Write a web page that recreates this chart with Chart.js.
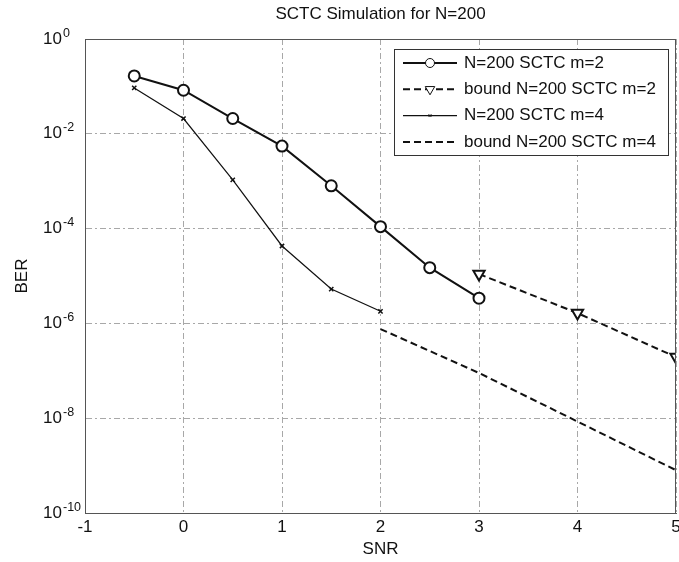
<!DOCTYPE html>
<html>
<head>
<meta charset="utf-8">
<title>SCTC Simulation for N=200</title>
<style>
  body { margin: 0; background: white; }
</style>
</head>
<body>
<canvas id="berChart" width="679" height="562"></canvas>

<script src="https://cdn.jsdelivr.net/npm/chart.js@4.4.0/dist/chart.umd.min.js"></script>
<script>
// values (SNR in dB, BER)
var snrM2 = [-0.5, 0, 0.5, 1, 1.5, 2, 2.5, 3];
var berM2 = [0.166, 0.083, 0.021, 0.0055, 8e-4, 1.1e-4, 1.5e-5, 3.4e-6];
var snrBoundM2 = [3, 4, 5];
var berBoundM2 = [1.1e-5, 1.65e-6, 1.95e-7];
var snrM4 = [-0.5, 0, 0.5, 1, 1.5, 2];
var berM4 = [0.093, 0.021, 1.07e-3, 4.3e-5, 5.3e-6, 1.8e-6];
var snrBoundM4 = [2, 3, 4, 5];
var berBoundM4 = [7.6e-7, 9e-8, 8.5e-9, 8e-10];
var seriesNames = ['N=200 SCTC m=2', 'bound N=200 SCTC m=2', 'N=200 SCTC m=4', 'bound N=200 SCTC m=4'];
var xTicks = [-1, 0, 1, 2, 3, 4, 5];
var yTickExp = [0, -2, -4, -6, -8, -10];

var FONT = "'Liberation Sans', Arial, sans-serif";

function pts(xs, ys) {
  return xs.map(function (x, i) { return { x: x, y: ys[i] }; });
}

// white page + frame around the axes
var frame = {
  id: 'frame',
  beforeDraw: function (chart) {
    var c = chart.ctx;
    c.save();
    c.fillStyle = 'white';
    c.fillRect(0, 0, chart.width, chart.height);
    c.restore();
  },
  afterDatasetsDraw: function (chart) {
    var a = chart.chartArea, c = chart.ctx;
    c.save();
    c.strokeStyle = '#555';
    c.lineWidth = 1;
    c.strokeRect(a.left + 0.5, a.top + 0.5, a.right - a.left - 1, a.bottom - a.top);
    c.restore();
  }
};

// y tick labels as 10 with a raised exponent, like matlab does
var powerLabels = {
  id: 'powerLabels',
  afterDraw: function (chart) {
    var s = chart.scales.y, c = chart.ctx;
    c.save();
    c.fillStyle = '#111';
    s.ticks.forEach(function (t) {
      var y = s.getPixelForValue(t.value);
      var e = Math.round(Math.log10(t.value));
      c.textAlign = 'left';
      c.font = '17px ' + FONT;
      c.textBaseline = 'middle';
      c.fillText('10', 43, y);
      c.font = '12.5px ' + FONT;
      c.textBaseline = 'alphabetic';
      c.fillText(String(e), 63, y - 2.5);
    });
    c.restore();
  }
};

// matlab style legend box, top right inside the axes
var boxLegend = {
  id: 'boxLegend',
  afterDraw: function (chart) {
    var a = chart.chartArea, c = chart.ctx;
    var x0 = a.right - 282, y0 = a.top + 10, w = 274, h = 106;
    c.save();
    c.fillStyle = 'white';
    c.fillRect(x0, y0, w, h);
    c.strokeStyle = '#333';
    c.lineWidth = 1;
    c.strokeRect(x0 + 0.5, y0 + 0.5, w, h);
    c.font = '17px ' + FONT;
    c.textBaseline = 'middle';
    chart.data.datasets.forEach(function (ds, i) {
      var y = y0 + 14 + i * 26.3;
      c.save();
      c.strokeStyle = ds.borderColor;
      c.lineWidth = ds.borderWidth;
      c.setLineDash(ds.borderDash || []);
      c.beginPath();
      c.moveTo(x0 + 9, y);
      c.lineTo(x0 + 63, y);
      c.stroke();
      c.restore();
      if (ds.pointRadius > 0) {
        c.save();
        c.strokeStyle = ds.pointBorderColor;
        c.fillStyle = ds.pointBackgroundColor;
        Chart.helpers.drawPoint(c, {
          pointStyle: ds.pointStyle, rotation: ds.pointRotation || 0,
          radius: ds.pointRadius - 1, borderWidth: ds.pointBorderWidth
        }, x0 + 36, y);
        c.restore();
      }
      c.fillStyle = '#111';
      c.fillText(seriesNames[i], x0 + 70, y);
    });
    c.restore();
  }
};

var ctx = document.getElementById('berChart').getContext('2d');
var berChart = new Chart(ctx, {
  type: 'line',
  data: {
    datasets: [
      {
        label: seriesNames[0], data: pts(snrM2, berM2),
        borderColor: '#111', borderWidth: 2, fill: false,
        pointStyle: 'circle', pointRadius: 5.5, pointBorderWidth: 2,
        pointBorderColor: '#111', pointBackgroundColor: 'white'
      },
      {
        label: seriesNames[1], data: pts(snrBoundM2, berBoundM2),
        borderColor: '#111', borderWidth: 2, borderDash: [7, 4], fill: false,
        pointStyle: 'triangle', pointRotation: 180, pointRadius: 6.5, pointBorderWidth: 2,
        pointBorderColor: '#111', pointBackgroundColor: 'white'
      },
      {
        label: seriesNames[2], data: pts(snrM4, berM4),
        borderColor: '#111', borderWidth: 1.2, fill: false,
        pointStyle: 'crossRot', pointRadius: 3, pointBorderWidth: 1.5,
        pointBorderColor: '#111', pointBackgroundColor: '#111'
      },
      {
        label: seriesNames[3], data: pts(snrBoundM4, berBoundM4),
        borderColor: '#111', borderWidth: 2, borderDash: [7, 4], fill: false,
        pointRadius: 0
      }
    ]
  },
  options: {
    responsive: false,
    animation: false,
    layout: { autoPadding: false, padding: { left: 0, right: 3, top: 0, bottom: 0 } },
    plugins: {
      legend: { display: false },
      tooltip: { enabled: false },
      title: {
        display: true,
        fullSize: false,
        text: 'SCTC Simulation for N=200',
        color: '#111',
        font: { family: FONT, size: 17, weight: 'normal' },
        padding: { top: 4, bottom: 14.6 }
      }
    },
    scales: {
      x: {
        type: 'linear',
        min: -1, max: 5,
        afterBuildTicks: function (scale) {
          scale.ticks = xTicks.map(function (v) { return { value: v }; });
        },
        afterFit: function (scale) {
          scale.height = 49;
          scale.paddingLeft = 0;
          scale.paddingRight = 0;
        },
        ticks: {
          color: '#111', padding: 4, maxRotation: 0,
          font: { family: FONT, size: 17 }
        },
        grid: { color: '#a8a8a8', lineWidth: 1, drawTicks: false },
        border: { display: true, color: '#555', dash: [6, 3, 2, 3] },
        title: {
          display: true, text: 'SNR', color: '#111',
          font: { family: FONT, size: 17 },
          padding: { top: 0, bottom: 2 }
        }
      },
      y: {
        type: 'logarithmic',
        min: 1e-10, max: 1,
        afterBuildTicks: function (scale) {
          scale.ticks = yTickExp.map(function (e) { return { value: Math.pow(10, e) }; });
        },
        afterFit: function (scale) { scale.width = 85; },
        ticks: { display: false },
        grid: { color: '#a8a8a8', lineWidth: 1, drawTicks: false },
        border: { display: true, color: '#555', dash: [6, 3, 2, 3] },
        title: {
          display: true, text: 'BER', color: '#111',
          font: { family: FONT, size: 17 },
          padding: { top: 12, bottom: 0 }
        }
      }
    }
  },
  plugins: [frame, powerLabels, boxLegend]
});
</script>
</body>
</html>
